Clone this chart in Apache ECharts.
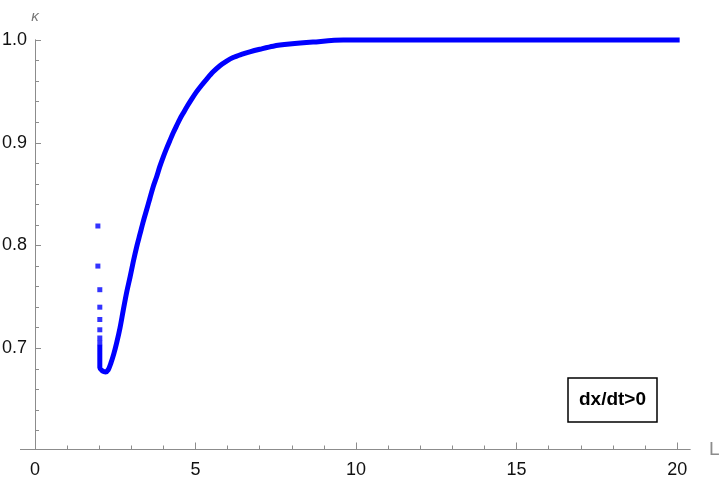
<!DOCTYPE html>
<html>
<head>
<meta charset="utf-8">
<title>kappa vs L</title>
<script src="https://cdn.jsdelivr.net/npm/echarts@6.0.0/dist/echarts.min.js"></script>
<style>
  html, body { margin: 0; padding: 0; background: #fff; }
  #chart-box { width: 720px; height: 486px; }
</style>
</head>
<body>
<div id="chart-box"></div>
<script>
// main branch of the curve (L, kappa)
const curveL = [2.02, 2.02, 2.1, 2.2, 2.28, 2.37, 2.46, 2.55, 2.65, 2.75, 2.86, 2.96, 3.06, 3.17, 3.27,
  3.37, 3.48, 3.58, 3.68, 3.79, 3.89, 4.0, 4.1, 4.2, 4.31, 4.41, 4.52, 4.62, 4.75, 4.88, 5.03, 5.19,
  5.35, 5.55, 5.76, 5.97, 6.17, 6.43, 6.69, 7.0, 7.42, 7.93, 8.66, 9.6, 20];
const curveK = [0.701, 0.681, 0.678, 0.677, 0.679, 0.686, 0.695, 0.706, 0.72, 0.737, 0.755, 0.769, 0.784, 0.799, 0.811,
  0.823, 0.835, 0.846, 0.857, 0.867, 0.877, 0.8865, 0.8945, 0.902, 0.91, 0.9165, 0.9235, 0.929, 0.936, 0.9425, 0.9495, 0.956,
  0.962, 0.969, 0.975, 0.9795, 0.983, 0.986, 0.9885, 0.991, 0.994, 0.996, 0.998, 1.0, 1.0];
// separate points above the dip near L = 2
const isoL = [1.96, 1.96, 2.02, 2.02, 2.02, 2.02, 2.02, 2.02];
const isoK = [0.819, 0.78, 0.757, 0.74, 0.728, 0.718, 0.71, 0.7055];

const xMajor = [0, 5, 10, 15, 20];
const xMinor = [1, 2, 3, 4, 6, 7, 8, 9, 11, 12, 13, 14, 16, 17, 18, 19];
const yMajor = [0.7, 0.8, 0.9, 1.0];
const yMinor = [0.62, 0.64, 0.66, 0.68, 0.72, 0.74, 0.76, 0.78, 0.82, 0.84, 0.86, 0.88, 0.92, 0.94, 0.96, 0.98];

const axisGray = "#8c8c8c";
const labelColor = "#111";
const blue = "#0000ff";

// x range starts a little left of 0, the y axis sits at L = 0
const xMin = -0.45;
const gridLeft = 20.5;
const yAxisShift = -14.5; // pixels from grid edge to L = 0

const chart = echarts.init(document.getElementById("chart-box"));

const option = {
  animation: false,
  grid: { left: gridLeft, top: 40, width: 669.5, height: 409.5, outerBoundsMode: "none", containLabel: false },
  xAxis: [
    {
      type: "value", min: xMin, max: 20.4, position: "bottom",
      splitLine: { show: false },
      axisLine: { show: true, lineStyle: { color: axisGray, width: 1 } },
      axisTick: { show: true, inside: true, length: 4, customValues: xMinor, lineStyle: { color: axisGray } },
      axisLabel: { show: false },
    },
    {
      type: "value", min: xMin, max: 20.4, position: "bottom",
      splitLine: { show: false },
      axisLine: { show: true, lineStyle: { color: axisGray, width: 1 } },
      axisTick: { show: true, inside: true, length: 7, customValues: xMajor, lineStyle: { color: axisGray } },
      axisLabel: {
        customValues: xMajor, margin: 12, color: labelColor,
        fontFamily: "Liberation Sans", fontSize: 18,
      },
      name: "L", nameLocation: "end", nameGap: 19,
      nameTextStyle: { color: axisGray, fontFamily: "Liberation Sans", fontSize: 19, verticalAlign: "middle", align: "left" },
    },
  ],
  yAxis: [
    {
      type: "value", min: 0.6015, max: 1.0, position: "left", offset: yAxisShift,
      splitLine: { show: false },
      axisLine: { show: true, onZero: false, lineStyle: { color: axisGray, width: 1 } },
      axisTick: { show: true, inside: true, length: 4, customValues: yMinor, lineStyle: { color: axisGray } },
      axisLabel: { show: false },
    },
    {
      type: "value", min: 0.6015, max: 1.0, position: "left", offset: yAxisShift,
      splitLine: { show: false },
      axisLine: { show: true, onZero: false, lineStyle: { color: axisGray, width: 1 } },
      axisTick: { show: true, inside: true, length: 6, customValues: yMajor, lineStyle: { color: axisGray } },
      axisLabel: {
        customValues: yMajor, margin: 8, color: labelColor,
        fontFamily: "Liberation Sans", fontSize: 18,
        formatter: (v) => v.toFixed(1),
      },
      name: "κ", nameLocation: "end", nameGap: 16,
      nameTextStyle: { color: "#777", fontFamily: "Liberation Sans", fontSize: 15, fontStyle: "italic", align: "center" },
    },
  ],
  series: [
    {
      type: "line",
      data: curveL.map((l, i) => [l, curveK[i]]),
      smooth: 0.3,
      showSymbol: false,
      clip: false,
      lineStyle: { color: blue, width: 5, cap: "square", join: "round" },
    },
    {
      type: "scatter",
      data: isoL.map((l, i) => [l, isoK[i]]),
      symbol: "rect",
      symbolSize: 5,
      clip: false,
      itemStyle: { color: blue },
    },
  ],
  graphic: [
    {
      type: "rect",
      shape: { x: 568, y: 378, width: 89, height: 44 },
      style: { fill: "#fff", stroke: "#000", lineWidth: 1.5 },
    },
    {
      type: "text",
      x: 612.5, y: 400,
      style: {
        text: "dx/dt>0", fill: "#000", align: "center", verticalAlign: "middle",
        font: "bold 19px 'Liberation Sans'",
      },
    },
  ],
};

chart.setOption(option);
</script>
</body>
</html>
